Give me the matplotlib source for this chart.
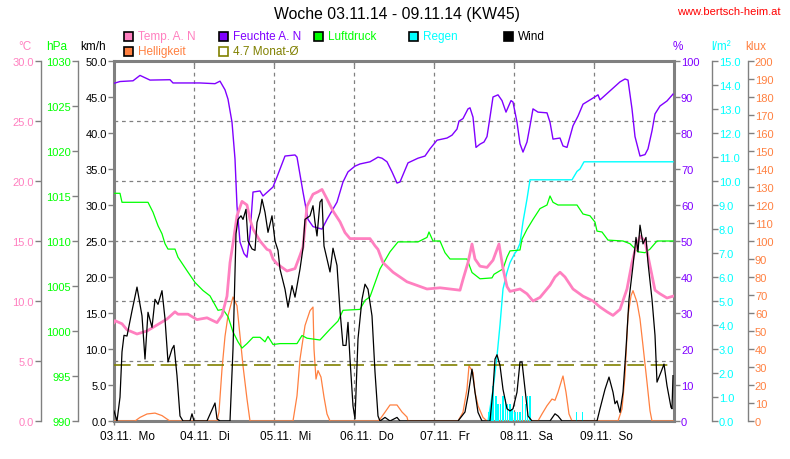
import numpy as np
import matplotlib
matplotlib.use("Agg")
import matplotlib.pyplot as plt
from matplotlib.patches import Rectangle
from matplotlib.ticker import FormatStrFormatter

plt.rcParams['font.family'] = ['Liberation Sans', 'DejaVu Sans']

# time in hours since 03.11.14 00:00
day_labels = ["03.11.  Mo", "04.11.  Di", "05.11.  Mi", "06.11.  Do", "07.11.  Fr", "08.11.  Sa", "09.11.  So"]

temp_h = [0, 0.3, 2.4, 3.9, 6.9, 9.9, 11.7, 15.9, 18.3, 19.2, 22.2, 24.9, 27.9, 30.9, 32.4, 33.9, 34.8, 35.7,
          36.9, 38.4, 39.9, 40.8, 41.7, 43.8, 45.9, 46.8, 47.7, 48.9, 51.9, 54.3, 55.8, 56.7, 57.9, 59.7, 61.2,
          62.4, 63.9, 65.7, 67.8, 69.3, 70.8, 72.9, 76.8, 78.3, 79.2, 80.7, 83.7, 87.9, 93.9, 97.8, 103.8,
          104.7, 106.2, 107.4, 108.3, 109.8, 111.9, 113.7, 115.5, 116.7, 117.9, 118.8, 121.8, 123.9, 125.7,
          127.8, 130.8, 132.3, 133.8, 135.3, 137.7, 140.7, 143.7, 145.8, 147.9, 149.7, 151.8, 153.9, 155.4,
          156.3, 157.8, 159.3, 160.2, 162.3, 163.8, 165.9, 167.7]
temp = [8.2, 8.36, 8.1, 7.6, 7.25, 7.5, 7.8, 8.5, 9.1, 8.9, 8.9, 8.45, 8.6, 8.2, 8.8, 10.4, 13.2, 14.8,
        17.1, 18.3, 18.0, 16.8, 16.0, 15.0, 14.3, 14.2, 13.5, 13.1, 12.5, 12.7, 13.8, 14.5, 17.9, 18.9, 19.1,
        19.3, 18.5, 17.5, 16.6, 15.7, 15.2, 15.2, 15.2, 14.6, 14.3, 13.2, 12.4, 11.6, 11.0, 11.1, 10.9,
        11.8, 13.2, 14.75, 13.5, 12.9, 12.8, 13.4, 14.75, 12.7, 11.2, 10.8, 11.0, 10.6, 10.0,
        10.3, 11.3, 12.0, 12.4, 12.0, 11.0, 10.4, 10.0, 9.5, 9.1, 8.8, 9.3, 11.0, 13.2,
        14.2, 15.4, 15.0, 13.75, 10.9, 10.6, 10.25, 10.4]

hum_h = [0, 1.8, 5.7, 7.8, 10.8, 16.8, 17.7, 25.8, 30.3, 31.8, 33.3, 34.2, 35.4, 36.3, 36.9, 37.8, 39, 39.9,
         40.8, 41.7, 43.8, 44.7, 47.7, 48.9, 51.3, 54.3, 54.9, 56.7, 58.2, 59.7, 62.4, 63.9, 66.9, 68.7, 70.2,
         72.3, 73.8, 76.8, 78.3, 79.2, 80.4, 81.9, 83.4, 84.9, 85.8, 88.2, 91.2, 93.3, 94.8, 96.9, 99.9,
         101.4, 102.9, 103.5, 104.7, 106.2, 106.8, 107.7, 108.6, 109.8, 111, 111.9, 112.8, 113.7, 115.2,
         116.4, 117.6, 119.1, 119.7, 120.9, 121.8, 122.7, 123.9, 124.8, 125.7, 127.2, 129.9, 130.8, 131.7,
         133.8, 134.7, 135.9, 136.8, 137.7, 139.2, 140.7, 143.7, 145.2, 145.8, 148.8, 151.8, 153.3, 154.2,
         155.4, 156.3, 157.8, 159.3, 160.2, 161.4, 162.3, 163.8, 165.9, 167.7]
hum = [93.8, 94.3, 94.5, 96, 94.7, 94.8, 93.9, 93.9, 93.7, 94.4, 92, 89.4, 83, 72.8, 59.7, 49.7, 46.5, 45.5,
       52, 63.6, 63.9, 62.5, 65, 67.8, 73.6, 73.9, 73.3, 63.6, 56, 54, 53.3, 56, 60.8, 66.4, 69.2,
       70.8, 71.4, 72, 72.8, 73.3, 73, 72, 69.2, 66.1, 66.4, 71.7, 73, 73.6, 75.6, 78, 78.6,
       79.4, 81.1, 83.3, 84, 86.7, 87, 84.4, 76, 76.9, 77.5, 79, 84.4, 90, 90.6,
       89, 85.8, 89, 88.6, 83, 77, 74.7, 77.5, 82, 86.7, 85.8, 85.6, 83, 78.3,
       78.6, 76.4, 76, 79, 82, 84.7, 88, 89.7, 90.6, 89.2, 91.7, 94.2, 95, 94.7,
       86.7, 79, 73.6, 74, 75.6, 80.6, 85.3, 87.5, 88.9, 90.8]

pres_h = [0, 1.8, 2.4, 10.2, 11.7, 13.2, 14.4, 15.3, 16.2, 18.3, 19.2, 21.9, 24.3, 26.7, 28.8, 31.2, 32.7,
          34.2, 35.7, 37.2, 38.4, 39.9, 41.7, 43.8, 45.3, 46.2, 47.7, 49.8, 54.9, 56.4, 57.9, 61.8, 64.8,
          67.2, 68.7, 73.8, 75.3, 76.8, 79.8, 82.8, 85.2, 91.2, 93.9, 94.5, 95.7, 97.8, 99.3, 100.8, 105.9,
          107.4, 109.8, 113.4, 114, 116.7, 117.9, 118.8, 121.8, 122.4, 123.9, 125.7, 127.8, 129.9, 130.8,
          131.7, 133.2, 138.9, 140.7, 142.8, 144.3, 144.9, 146.4, 148.2, 152.7, 154.8, 157.2, 159.3, 160.8,
          162.9, 167.7]
pres = [1015.3, 1015.3, 1014.3, 1014.3, 1013.2, 1011.7, 1010.8, 1009.7, 1009.1, 1009.1, 1008.2, 1006.7,
        1005.4, 1004.5, 1003.9, 1002.3, 1002.4, 1001.6, 999.9, 998.8, 998.1, 998.6, 999.3, 999.3, 998.8,
        999.4, 998.5, 998.6, 998.6, 999.5, 999.2, 999.0, 1000.2, 1001.1, 1002.3, 1002.4, 1003.4, 1003.8,
        1006.9, 1008.8, 1009.9, 1009.9, 1010.4, 1011.0, 1010.0, 1010.0, 1008.7, 1008.0, 1008.0, 1006.5,
        1005.8, 1005.9, 1006.3, 1006.9, 1008.2, 1008.9, 1009.0, 1010.2, 1011.3, 1012.4, 1013.6, 1014.0,
        1015.0, 1014.3, 1014.0, 1014.0, 1013.0, 1012.8, 1012.1, 1011.1, 1011.0, 1010.1, 1010.0, 1009.7,
        1008.8, 1008.7, 1009.1, 1010.0, 1010.0]

wind_h = [0, 0.9, 1.8, 2.4, 3, 3.9, 5.4, 6.9, 8.4, 9.3, 10.2, 11.4, 12.3, 13.2, 14.4, 15.3, 16.2, 17.4, 18,
          18.9, 19.8, 20.7, 22.8, 23.4, 24, 27.9, 30.3, 30.9, 31.8, 34.8, 35.7, 36.6, 37.2, 38.1, 38.7, 39.6,
          40.2, 41.4, 42.3, 42.9, 43.8, 44.4, 45.3, 46.2, 47.4, 48.3, 49.2, 49.8, 51.3, 52.2, 53.4, 54.3,
          55.8, 56.7, 57.3, 58.8, 59.7, 60.3, 60.9, 61.8, 62.4, 63, 63.9, 64.8, 65.7, 66.9, 67.8, 68.7,
          69.6, 70.2, 70.8, 71.7, 72.3, 73.2, 74.4, 75.3, 76.2, 77.4, 78.3, 79.2, 79.8, 81.3, 82.8, 84.9,
          85.8, 103.2, 105.3, 106.2, 107.4, 108.3, 109.2, 110.4, 112.8, 113.7, 114.3, 114.9, 115.8, 116.7,
          117.9, 118.8, 119.7, 120.9, 121.8, 122.4, 123.3, 124.2, 125.4, 130.8, 132.3, 133.2, 134.4, 144.9,
          145.8, 147.3, 148.5, 149.7, 150.3, 150.9, 151.8, 152.7, 153.6, 154.5, 155.7, 156.6, 157.2, 157.8,
          158.7, 159.6, 160.2, 161.4, 162.3, 162.9, 164.1, 165, 165.9, 167.1, 167.4, 167.7]
wind = [1.4, 0, 3.3, 9.6, 11.9, 11.8, 15.3, 18.6, 14.6, 8.6, 15.1, 13, 16.9, 16.2, 18.1, 14.2, 8.2, 10, 10.5,
        6.3, 0.7, 0, 0, 1, 0, 0, 2.5, 0.3, 0, 0, 10, 26, 28, 28.5, 28, 29.4,
        25, 23.9, 23.7, 27.6, 29, 30.8, 29, 26.2, 28.5, 25, 23.7, 21.1, 18.3, 15.8, 18.8, 17.2,
        21.1, 24, 28, 28.5, 29.9, 27.6, 25.7, 30.4, 30.8, 24.3, 22.5, 20.7, 24, 21.6, 15.3, 10.5,
        10.5, 13.7, 8.6, 2.1, 0.3, 11.4, 16.9, 19, 18.3, 14.6, 6.8, 0.7, 0, 0.5, 0, 0.5,
        0, 0, 1.25, 3.5, 7.2, 4, 1.2, 0, 0, 4.4, 8.6, 9.2, 7.7, 4.4,
        1.7, 1.4, 1.7, 4, 8.2, 8.2, 4.4, 0.7, 0, 0, 1, 0.7, 0, 0,
        1.7, 4.4, 6.1, 4, 2.4, 2.8, 1.2, 4, 10, 16.9, 21.6, 25.5, 23.5, 27.2,
        24.6, 25.5, 22, 16.9, 11.9, 5.4, 6.8, 7.9, 4.9, 1.9, 1.7, 6.3]

lux_h = [0, 6.3, 7.8, 9.9, 12.3, 14.4, 16.2, 16.8, 30.9, 31.5, 32.4, 33.3, 34.2, 35.4, 35.7, 36.9, 37.8, 38.7,
         39.9, 40.8, 53.7, 54.9, 55.8, 57.3, 58.8, 59.7, 60, 60.6, 61.2, 62.1, 63, 63.9, 64.8, 79.2, 79.8,
         81.3, 82.8, 84.9, 86.4, 87.9, 88.2, 103.2, 104.7, 105.9, 106.5, 107.7, 108.3, 109.2, 110.7, 111.9,
         127.2, 128.4, 129.9, 131.4, 132.3, 133.2, 134.4, 134.7, 135.6, 136.5, 137.4, 151.2, 152.4, 153.3,
         154.2, 155.1, 155.7, 156.9, 157.8, 158.7, 159.9, 160.8, 161.4, 167.7]
lux = [0, 0, 2, 3.9, 4.4, 3, 0.7, 0, 0, 5, 28.9, 47, 58.5, 66.9, 68.9, 64, 47.4, 30.7,
       12.2, 0, 0, 14, 34.4, 53, 61.3, 63.3, 40, 23.3, 28, 24.4, 13.3, 3.9, 0, 0, 1,
       4.9, 8.9, 8.9, 5, 2.2, 0, 0, 4.9, 17.8, 30.7, 27, 16, 8.5, 2, 0,
       0, 3.9, 8.5, 12.2, 11.5, 16, 23.3, 25, 16, 3.9, 0, 0, 6.7, 25.2,
       58.5, 69.6, 72.4, 66, 56.7, 41.8, 21.5, 5.7, 0, 0]

rain_sum_h = [112.2, 113.7, 114.9, 115.8, 116.7, 117.9, 118.8, 120.3, 120.9, 121.8, 122.7, 123.9, 124.8,
              137.4, 138.9, 139.8, 141, 167.7]
rain_sum = [0, 1.3, 2.7, 4, 5.5, 6.2, 6.6, 7, 7.1, 7.4, 8.3, 9.25, 10.05, 10.05, 10.4, 10.5, 10.8, 10.8]

rain_bar_h = [112.6, 113.1, 113.8, 114.5, 115.2, 115.9, 116.7, 117.4, 118.1, 118.8, 119.5, 120.3, 121,
              121.8, 122.6, 123.5, 124.1, 124.8, 138.8, 140.6]
rain_bar = [0.36, 0.64, 1.47, 1.05, 0.71, 0.71, 1.05, 0.92, 0.71, 0.71, 0.5, 0.39, 0.39, 0.36, 1.05, 0.71,
            1.05, 1.05, 0.36, 0.36]

month_avg = 4.7

PINK, PURPLE, GREEN, CYAN, ORANGE, OLIVE = '#FF80C0', '#8000FF', '#00FF00', '#00FFFF', '#FF8040', '#808000'
GRAY = '#808080'
FS = 8

fig = plt.figure(figsize=(7.9, 4.6), dpi=100)
ax = fig.add_axes([114 / 790, 38 / 460, 560 / 790, 360 / 460])
ax.set_xlim(0, 168)
ax.set_ylim(0, 50)
for s in ax.spines.values():
    s.set_color(GRAY)
    s.set_linewidth(2.2)
ax.set_yticks(np.arange(0, 50.1, 5))
ax.yaxis.set_major_formatter(FormatStrFormatter('%.1f'))
ax.tick_params(axis='y', colors=GRAY, labelcolor='black', length=4, width=1, labelsize=FS, pad=1)
ax.set_xticks(np.arange(0, 168, 24))
ax.set_xticklabels([])
ax.tick_params(axis='x', colors=GRAY, length=3, width=1)
for i, lab in enumerate(day_labels):
    ax.text(i * 24 - 4.3, -0.042, lab, transform=ax.get_xaxis_transform(), ha='left', va='center',
            fontsize=FS + 0.5)
top = ax.secondary_xaxis('top')
top.set_xticks(np.arange(24, 168, 24))
top.set_xticklabels([])
top.tick_params(direction='in', length=3, colors=GRAY, width=1)
top.spines['top'].set_visible(False)

# grid: verticals at midnight, horizontals follow the temperature scale
for d in range(1, 7):
    ax.axvline(d * 24, color=GRAY, lw=0.9, ls=(0, (3, 3)), zorder=0)
for t in range(5, 30, 5):
    ax.axhline(t * 50 / 30, color=GRAY, lw=0.9, ls=(0, (3, 3)), zorder=0)


def extra_axis(side, pos, lo, hi, step, fmt, color, visible=True):
    a = ax.twinx()
    for s in a.spines.values():
        s.set_visible(False)
    a.spines[side].set_visible(visible)
    a.spines[side].set_position(('axes', pos))
    a.spines[side].set_color(GRAY)
    a.spines[side].set_linewidth(1)
    if side == 'left':
        a.yaxis.tick_left()
    else:
        a.yaxis.tick_right()
    a.set_ylim(lo, hi)
    a.set_yticks(np.arange(lo, hi + step / 2, step))
    a.yaxis.set_major_formatter(FormatStrFormatter(fmt))
    a.tick_params(axis='y', colors=GRAY, labelcolor=color, length=4, width=1, labelsize=FS, pad=1)
    return a


ax_lux = extra_axis('right', 1.1321, 0, 200, 10, '%d', ORANGE)
ax_rain = extra_axis('right', 1.0673, 0, 15, 1, '%.1f', CYAN)
ax_pres = extra_axis('left', -0.0648, 990, 1030, 5, '%d', GREEN)
ax_hum = extra_axis('right', 1.0, 0, 100, 10, '%d', PURPLE, visible=False)
ax_temp = extra_axis('left', -0.1309, 0, 30, 5, '%.1f', PINK)

ax_rain.bar(rain_bar_h, rain_bar, width=0.5, color=CYAN, zorder=1)
ax_rain.plot(rain_sum_h, rain_sum, color=CYAN, lw=1)
ax_lux.plot(lux_h, lux, color=ORANGE, lw=0.9)
ax_pres.plot(pres_h, pres, color=GREEN, lw=0.9)
ax_hum.plot(hum_h, hum, color=PURPLE, lw=1)
ax_temp.axhline(month_avg, color=OLIVE, lw=1.2, ls=(0, (10, 4)))
ax_temp.plot(temp_h, temp, color=PINK, lw=2)
ax_temp.plot(wind_h, np.array(wind) * 30 / 50, color='black', lw=0.9)

# axis units
units = [(25, '°C', PINK), (57, 'hPa', GREEN), (93, 'km/h', 'black'),
         (678, '%', PURPLE), (721, 'l/m²', CYAN), (756, 'klux', ORANGE)]
for x, t, c in units:
    fig.text(x / 790, 1 - 47 / 460, t, color=c, fontsize=FS + 0.5, ha='center', va='center')

fig.text(397 / 790, 1 - 15 / 460, 'Woche 03.11.14 - 09.11.14 (KW45)', fontsize=11.3, ha='center', va='center')
fig.text(781 / 790, 1 - 12 / 460, 'www.bertsch-heim.at', fontsize=FS, color='red', ha='right', va='center')

# legend
legend = [(124, 37, 'Temp. A. N', PINK, PINK), (219, 37, 'Feuchte A. N', PURPLE, PURPLE),
          (314, 37, 'Luftdruck', GREEN, GREEN), (409, 37, 'Regen', CYAN, CYAN),
          (504, 37, 'Wind', 'black', 'black'), (124, 52, 'Helligkeit', ORANGE, ORANGE),
          (219, 52, '4.7 Monat-Ø', 'none', OLIVE)]
for x, y, t, fc, tc in legend:
    ec = OLIVE if fc == 'none' else 'black'
    fig.patches.append(Rectangle((x / 790, 1 - (y + 5) / 460), 9 / 790, 9 / 460, transform=fig.transFigure,
                                 facecolor=fc, edgecolor=ec, lw=1.2))
    fig.text((x + 14) / 790, 1 - y / 460, t, color=tc, fontsize=FS + 0.5, ha='left', va='center')

fig.savefig('out.png', dpi=100)
